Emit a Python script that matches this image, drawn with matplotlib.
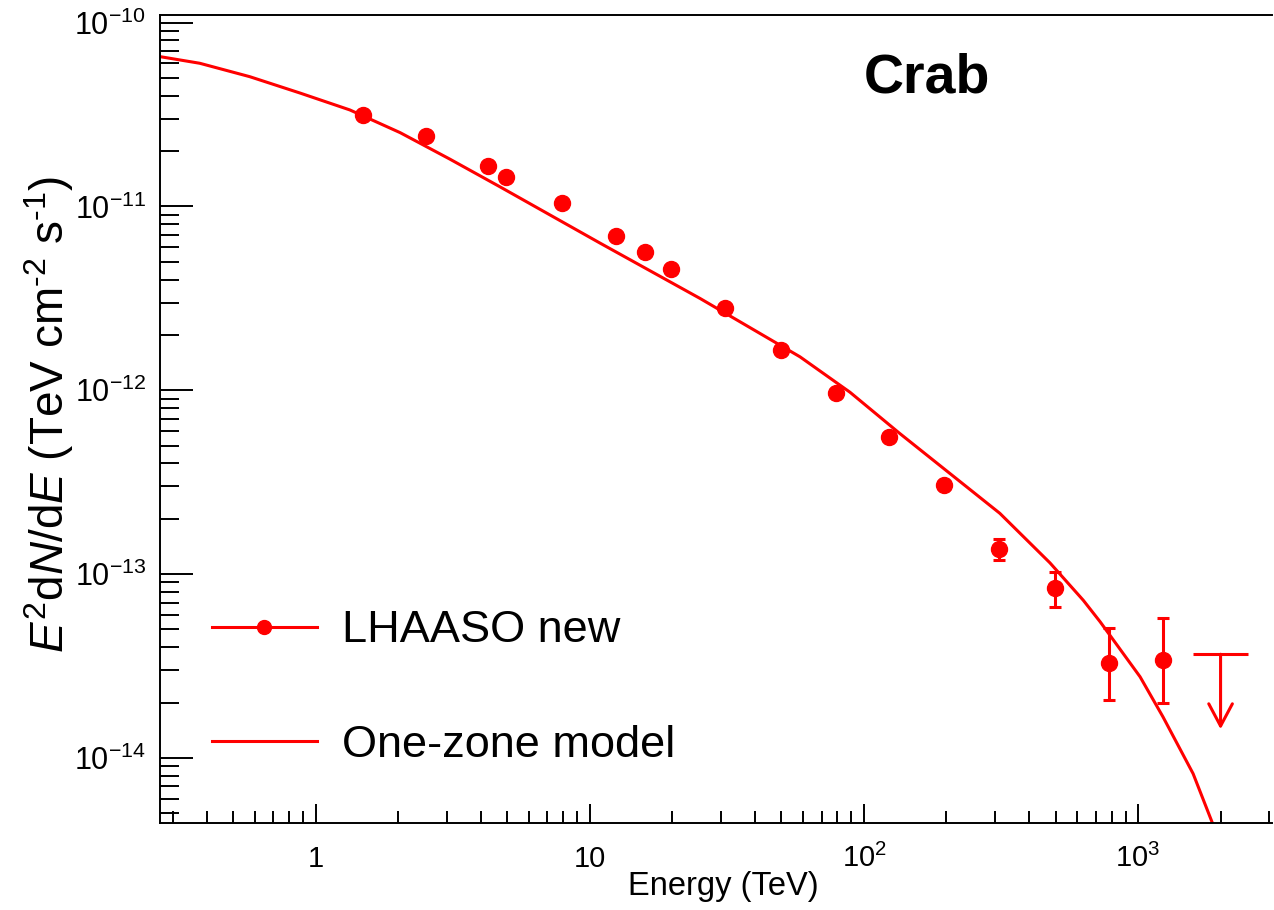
import matplotlib
matplotlib.use("Agg")
import matplotlib.pyplot as plt
from matplotlib.lines import Line2D
import numpy as np

plt.rcParams['font.family'] = ['Liberation Sans', 'DejaVu Sans']
plt.rcParams['mathtext.fontset'] = 'custom'
plt.rcParams['mathtext.rm'] = 'Liberation Sans'
plt.rcParams['mathtext.it'] = 'Liberation Sans:italic'
plt.rcParams['mathtext.bf'] = 'Liberation Sans:bold'

# LHAASO data points (TeV, TeV cm^-2 s^-1)
energy = [1.48, 2.52, 4.23, 4.96, 7.91, 12.5, 15.9, 19.8, 31.2, 49.8,
          78.8, 123.6, 196, 311, 496, 783, 1237]
flux = [3.15e-11, 2.41e-11, 1.66e-11, 1.45e-11, 1.05e-11, 6.9e-12, 5.62e-12,
        4.55e-12, 2.81e-12, 1.66e-12, 9.7e-13, 5.55e-13, 3.05e-13, 1.37e-13,
        8.37e-14, 3.27e-14, 3.4e-14]
flux_hi = [3.2e-11, 2.45e-11, 1.69e-11, 1.48e-11, 1.07e-11, 7.05e-12, 5.75e-12,
           4.67e-12, 2.88e-12, 1.71e-12, 1.0e-12, 5.75e-13, 3.2e-13, 1.56e-13,
           1.02e-13, 5.09e-14, 5.8e-14]
flux_lo = [3.1e-11, 2.37e-11, 1.63e-11, 1.42e-11, 1.03e-11, 6.75e-12, 5.5e-12,
           4.43e-12, 2.74e-12, 1.61e-12, 9.4e-13, 5.35e-13, 2.9e-13, 1.19e-13,
           6.6e-14, 2.06e-14, 1.98e-14]

# upper limit
ul_energy = 2000
ul_emin, ul_emax = 1585, 2512
ul_flux = 3.66e-14
ul_arrow_to = 1.43e-14

# one-zone model curve
model_e = [0.27, 0.377, 0.574, 0.875, 1.33, 2.03, 3.08, 4.69, 10.9, 25.2,
           58.4, 88.9, 135, 313, 477, 631, 727, 1017, 1233, 1588, 1862, 2100]
model_f = [6.53e-11, 6.01e-11, 5.08e-11, 4.14e-11, 3.35e-11, 2.52e-11, 1.81e-11,
           1.28e-11, 6.31e-12, 3.16e-12, 1.52e-12, 9.75e-13, 5.82e-13, 2.14e-13,
           1.15e-13, 7.2e-14, 5.5e-14, 2.76e-14, 1.67e-14, 8.2e-15, 4.47e-15, 2.6e-15]

xticks = [1, 10, 100, 1000]
xticklabels = ['1', '10', r'$10^{2}$', r'$10^{3}$']
yticks = [1e-14, 1e-13, 1e-12, 1e-11, 1e-10]
yticklabels = [r'$10^{-14}$', r'$10^{-13}$', r'$10^{-12}$', r'$10^{-11}$', r'$10^{-10}$']

fig = plt.figure(figsize=(12.74, 9.10), dpi=100)
ax = fig.add_axes([0.1256, 0.0956, 0.8728, 0.8879])

ax.plot(model_e, model_f, color='red', lw=2.2, zorder=2)

yerr = [np.array(flux) - np.array(flux_lo), np.array(flux_hi) - np.array(flux)]
ax.errorbar(energy, flux, yerr=yerr, fmt='o', color='red', ms=11.5, lw=2.2,
            capsize=4, capthick=2.2, zorder=3)

# upper limit: bin bar and arrow
ax.hlines(ul_flux, ul_emin, ul_emax, color='red', lw=2.2)
ax.annotate('', xy=(ul_energy, ul_arrow_to), xytext=(ul_energy, ul_flux),
            arrowprops=dict(arrowstyle='->,head_length=1.6,head_width=0.85',
                            color='red', lw=2.2, shrinkA=0, shrinkB=0))

ax.set_xscale('log')
ax.set_yscale('log')
ax.set_xlim(0.27, 3080)
ax.set_ylim(4.42e-15, 1.1e-10)

ax.set_xticks(xticks)
ax.set_xticklabels(xticklabels)
ax.set_yticks(yticks)
ax.set_yticklabels(yticklabels)
ax.xaxis.set_minor_locator(matplotlib.ticker.LogLocator(base=10, subs=np.arange(2, 10)))
ax.yaxis.set_minor_locator(matplotlib.ticker.LogLocator(base=10, subs=np.arange(2, 10)))
ax.xaxis.set_minor_formatter(matplotlib.ticker.NullFormatter())
ax.yaxis.set_minor_formatter(matplotlib.ticker.NullFormatter())

ax.tick_params(axis='both', which='both', direction='in', top=False, right=False,
               width=1.4, color='black')
ax.tick_params(axis='x', which='major', length=14, labelsize=21, pad=32)
ax.tick_params(axis='x', which='minor', length=9)
ax.tick_params(axis='y', which='major', length=24, labelsize=22, pad=10)
ax.tick_params(axis='y', which='minor', length=14)
for lab in ax.get_xticklabels():
    lab.set_verticalalignment('baseline')
for s in ax.spines.values():
    s.set_linewidth(1.4)
ax.spines['right'].set_visible(False)

ax.set_xlabel('Energy (TeV)', fontsize=23.5, ha='right')
ax.xaxis.set_label_coords(0.592, -0.059)
ax.set_ylabel(r'$E^{2}$d$N$/d$E$ (TeV cm$^{\text{-}2}$ s$^{\text{-}1}$)', fontsize=33)
ax.yaxis.set_label_coords(-0.076, 0.505)

ax.text(0.69, 0.922, 'Crab', transform=ax.transAxes, fontsize=40,
        fontweight='bold', ha='center', va='center')

handles = [Line2D([], [], color='red', lw=2.2, marker='o', ms=10),
           Line2D([], [], color='red', lw=2.2)]
ax.legend(handles, ['LHAASO new', 'One-zone model'], loc='upper left',
          bbox_to_anchor=(0.1486, 0.354), bbox_transform=fig.transFigure,
          frameon=False, fontsize=32.5, handlelength=2.33, handletextpad=0.55,
          labelspacing=1.62, borderpad=0)

fig.savefig('out.png', dpi=100)
